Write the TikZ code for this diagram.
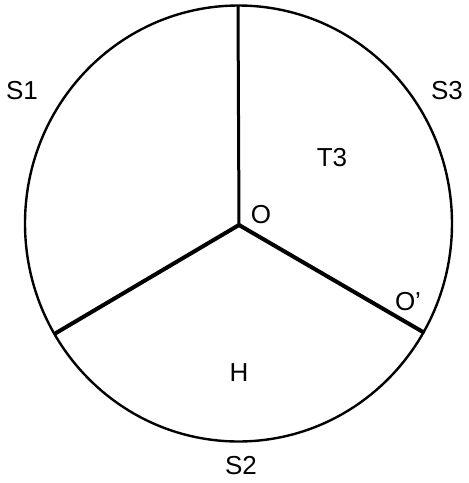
\documentclass[tikz,border=0pt]{standalone}
\usepackage{fontspec}
\setmainfont{Liberation Sans}
\usetikzlibrary{calc}

\begin{document}
\begin{tikzpicture}[
  x=1pt,y=-1pt,
  font=\fontsize{26}{30}\selectfont,
  rim/.style={line width=2.4pt},
  spoke/.style={line width=4pt,line cap=round},
  lbl/.style={inner sep=0pt},
  ]
\useasboundingbox (0,0) rectangle (469,483);

% ---- outer circle ----
\coordinate (c) at (238.5,223.5);
\draw[rim] (c) ellipse [x radius=213.5,y radius=218];

% ---- spokes ----
\coordinate (O) at (239,225);
\coordinate (top) at (238,6);
\coordinate (lft) at (56,333);
\coordinate (Op) at (423,332);
\draw[spoke,line width=3pt] (O) -- (top);
\draw[spoke] (O) -- (lft);
\draw[spoke] (O) -- (Op);

% ---- labels ----
\node[lbl] (s1) at (22,91) {S1};
\node[lbl] (s3) at (447,91) {S3};
\node[lbl] (t3) at (332,158) {T3};
\node[lbl] (o) at (261,215) {O};
\node[lbl] (op) at (408,302) {O’};
\node[lbl] (h) at (239,373) {H};
\node[lbl] (s2) at (241,466) {S2};

\end{tikzpicture}
\end{document}
